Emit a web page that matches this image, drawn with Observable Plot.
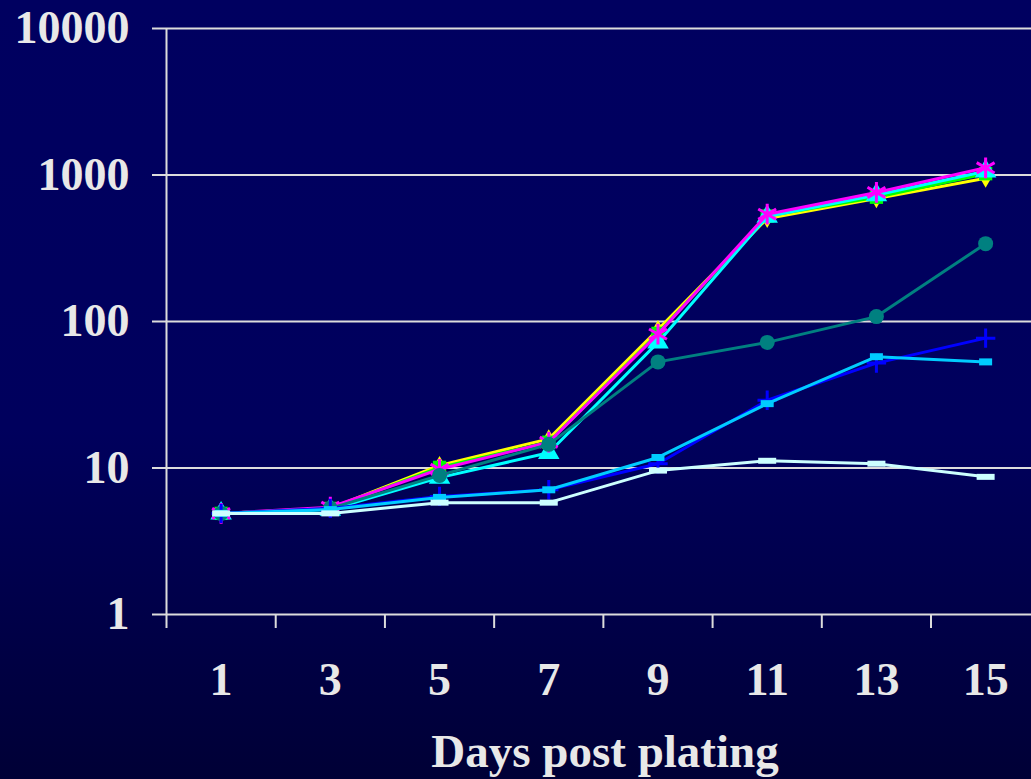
<!DOCTYPE html>
<html><head><meta charset="utf-8">
<script src="https://cdn.jsdelivr.net/npm/d3@7"></script>
<script src="https://cdn.jsdelivr.net/npm/@observablehq/plot@0.6"></script>
<style>
html,body{margin:0;padding:0;}
body{width:1031px;height:779px;overflow:hidden;background:linear-gradient(to bottom,#000060 0%,#00005d 55%,#000036 100%);}
svg{display:block;}
</style></head><body><div id="chart"></div>
<script>
// ---- data ----
const days = [1, 3, 5, 7, 9, 11, 13, 15];
const yellowValues  = [4.9, 5.3, 10.4, 15.8, 88, 505, 690, 950];
const greenValues   = [4.9, 5.3, 10.1, 15.0, 83, 525, 705, 1020];
const cyanValues    = [4.9, 5.2, 8.6, 12.7, 72, 520, 730, 1060];
const magentaValues = [4.9, 5.4, 9.8, 15.0, 82, 540, 760, 1120];
const tealValues    = [4.9, 5.3, 8.9, 14.5, 53, 72, 108, 340];
const blueValues    = [4.9, 5.3, 6.4, 7.1, 10.7, 29, 52, 77];
const skyValues     = [4.9, 5.2, 6.3, 7.1, 11.8, 27.5, 57.5, 53];
const paleValues    = [4.9, 4.9, 5.8, 5.8, 9.6, 11.2, 10.7, 8.7];
const yTicks = [1, 10, 100, 1000, 10000];
const xLabelTicks = [1, 3, 5, 7, 9, 11, 13, 15];
const xMinorTicks = [0, 2, 4, 6, 8, 10, 12, 14];
const xAxisTitle = "Days post plating";

// ---- styling ----
const dash = (w, h) => ({draw(ctx) {
  ctx.moveTo(-w/2, -h/2); ctx.lineTo(w/2, -h/2); ctx.lineTo(w/2, h/2); ctx.lineTo(-w/2, h/2); ctx.closePath();
}});
const series = [
  {values: yellowValues,  color: "#ffff00", symbol: "diamond",  r: 5.8, filled: true},
  {values: greenValues,   color: "#00ff00", symbol: "square",   r: 7.5, filled: true},
  {values: cyanValues,    color: "#00ffff", symbol: "triangle", r: 8,   filled: true},
  {values: magentaValues, color: "#ff00ff", symbol: "asterisk", r: 9.8, filled: false},
  {values: tealValues,    color: "#008080", symbol: "circle",   r: 7.5, filled: true},
  {values: blueValues,    color: "#0000ff", symbol: "plus",     r: 6.3, filled: false},
  {values: skyValues,     color: "#00ccff", symbol: dash(13, 7), r: 5,  filled: true},
  {values: paleValues,    color: "#ccffff", symbol: dash(18, 6), r: 5,  filled: true}
];
const axisColor = "#dcdcdc";
const textColor = "#e8e8e8";

const marks = [
  Plot.gridY(yTicks, {stroke: axisColor, strokeOpacity: 1, strokeWidth: 2}),
  Plot.ruleX([0], {stroke: axisColor, strokeWidth: 2}),
  Plot.axisY(yTicks, {tickSize: 14, tickPadding: 23, tickFormat: d => String(d), fontSize: 46,
    stroke: axisColor, strokeWidth: 2, fill: textColor, label: null}),
  Plot.axisX(xMinorTicks, {tickSize: 14, tickFormat: () => "", stroke: axisColor, strokeWidth: 2, label: null}),
  Plot.axisX(xLabelTicks, {tickSize: 0, tickPadding: 48, fontSize: 46, fill: textColor, label: null}),
  Plot.text([xAxisTitle], {frameAnchor: "bottom", dy: 152, dx: 6, lineAnchor: "bottom", fontSize: 47, fill: textColor})
];
for (const s of series) {
  const rows = days.map((d, i) => ({day: d, value: s.values[i]}));
  marks.push(Plot.line(rows, {x: "day", y: "value", stroke: s.color, strokeWidth: 3}));
  marks.push(Plot.dot(rows, s.filled
    ? {x: "day", y: "value", symbol: s.symbol, r: s.r, fill: s.color, stroke: "none"}
    : {x: "day", y: "value", symbol: s.symbol, r: s.r, stroke: s.color, strokeWidth: 3, fill: "none"}));
}

const chart = Plot.plot({
  width: 1031, height: 779,
  marginLeft: 166, marginRight: 0, marginTop: 28, marginBottom: 165,
  x: {type: "linear", domain: [0, 15.84], label: null},
  y: {type: "log", domain: [1, 10000], label: null},
  style: {background: "transparent", color: textColor, fontFamily: "'Liberation Serif', 'Times New Roman', serif", fontWeight: "bold", overflow: "visible"},
  marks
});
document.getElementById("chart").appendChild(chart);
</script>
</body></html>
